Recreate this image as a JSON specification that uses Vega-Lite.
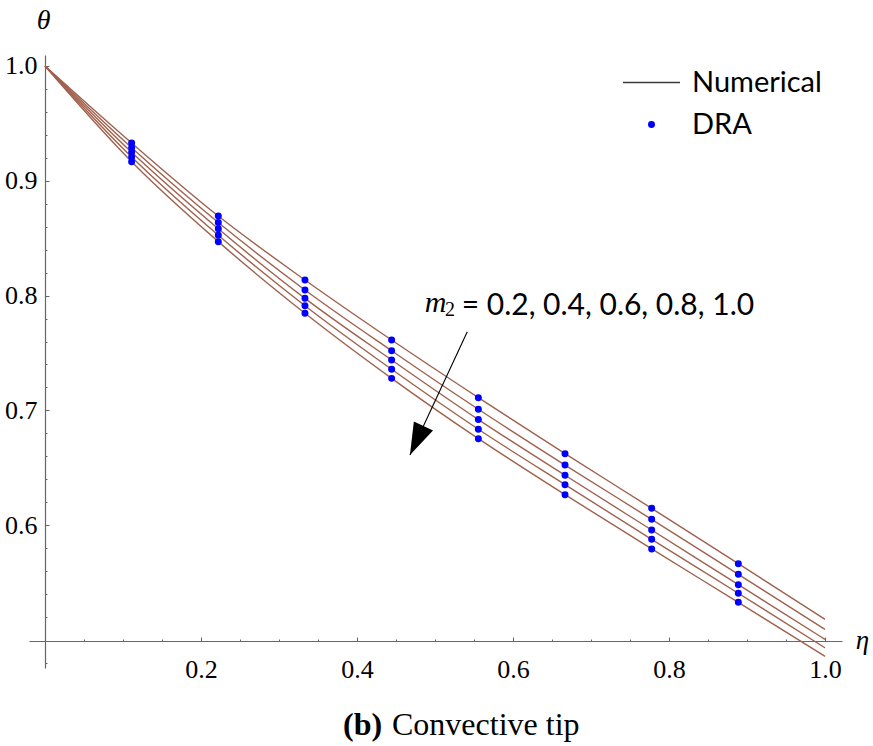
{
  "$schema": "https://vega.github.io/schema/vega-lite/v6.json",
  "width": 813,
  "height": 613,
  "autosize": "none",
  "padding": {"left": 29, "top": 55, "right": 31, "bottom": 78},
  "background": "white",
  "config": {
    "view": {"stroke": null},
    "axis": {"grid": false},
    "legend": {
      "orient": "none",
      "legendX": 593,
      "legendY": -2,
      "title": null,
      "padding": 0,
      "labelFont": "Lato",
      "labelFontSize": 29,
      "labelColor": "black",
      "labelOffset": 11,
      "rowPadding": 12,
      "symbolStrokeWidth": 1.5
    }
  },
  "datasets": {
    "numerical": [
      {"eta": 0, "theta": 1.0, "m2": 0.2}, {"eta": 0.1111, "theta": 0.9329, "m2": 0.2}, {"eta": 0.2222, "theta": 0.8693, "m2": 0.2}, {"eta": 0.3333, "theta": 0.8136, "m2": 0.2}, {"eta": 0.4444, "theta": 0.7613, "m2": 0.2}, {"eta": 0.5556, "theta": 0.7111, "m2": 0.2}, {"eta": 0.6667, "theta": 0.6623, "m2": 0.2}, {"eta": 0.7778, "theta": 0.6147, "m2": 0.2}, {"eta": 0.8889, "theta": 0.5665, "m2": 0.2}, {"eta": 1.0, "theta": 0.518, "m2": 0.2},
      {"eta": 0, "theta": 1.0, "m2": 0.4}, {"eta": 0.1111, "theta": 0.9288, "m2": 0.4}, {"eta": 0.2222, "theta": 0.8637, "m2": 0.4}, {"eta": 0.3333, "theta": 0.8049, "m2": 0.4}, {"eta": 0.4444, "theta": 0.752, "m2": 0.4}, {"eta": 0.5556, "theta": 0.701, "m2": 0.4}, {"eta": 0.6667, "theta": 0.6524, "m2": 0.4}, {"eta": 0.7778, "theta": 0.6051, "m2": 0.4}, {"eta": 0.8889, "theta": 0.5572, "m2": 0.4}, {"eta": 1.0, "theta": 0.5092, "m2": 0.4},
      {"eta": 0, "theta": 1.0, "m2": 0.6}, {"eta": 0.1111, "theta": 0.9248, "m2": 0.6}, {"eta": 0.2222, "theta": 0.8582, "m2": 0.6}, {"eta": 0.3333, "theta": 0.7976, "m2": 0.6}, {"eta": 0.4444, "theta": 0.7439, "m2": 0.6}, {"eta": 0.5556, "theta": 0.692, "m2": 0.6}, {"eta": 0.6667, "theta": 0.6435, "m2": 0.6}, {"eta": 0.7778, "theta": 0.5958, "m2": 0.6}, {"eta": 0.8889, "theta": 0.5482, "m2": 0.6}, {"eta": 1.0, "theta": 0.5005, "m2": 0.6},
      {"eta": 0, "theta": 1.0, "m2": 0.8}, {"eta": 0.1111, "theta": 0.9207, "m2": 0.8}, {"eta": 0.2222, "theta": 0.8526, "m2": 0.8}, {"eta": 0.3333, "theta": 0.7912, "m2": 0.8}, {"eta": 0.4444, "theta": 0.7358, "m2": 0.8}, {"eta": 0.5556, "theta": 0.6836, "m2": 0.8}, {"eta": 0.6667, "theta": 0.6353, "m2": 0.8}, {"eta": 0.7778, "theta": 0.5877, "m2": 0.8}, {"eta": 0.8889, "theta": 0.5407, "m2": 0.8}, {"eta": 1.0, "theta": 0.4932, "m2": 0.8},
      {"eta": 0, "theta": 1.0, "m2": 1.0}, {"eta": 0.1111, "theta": 0.9166, "m2": 1.0}, {"eta": 0.2222, "theta": 0.847, "m2": 1.0}, {"eta": 0.3333, "theta": 0.7846, "m2": 1.0}, {"eta": 0.4444, "theta": 0.7279, "m2": 1.0}, {"eta": 0.5556, "theta": 0.6754, "m2": 1.0}, {"eta": 0.6667, "theta": 0.6266, "m2": 1.0}, {"eta": 0.7778, "theta": 0.5793, "m2": 1.0}, {"eta": 0.8889, "theta": 0.5328, "m2": 1.0}, {"eta": 1.0, "theta": 0.4858, "m2": 1.0}
    ],
    "dra": [
      {"eta": 0.1111, "theta": 0.9329, "m2": 0.2, "src": "DRA"}, {"eta": 0.2222, "theta": 0.8693, "m2": 0.2, "src": "DRA"}, {"eta": 0.3333, "theta": 0.8136, "m2": 0.2, "src": "DRA"}, {"eta": 0.4444, "theta": 0.7613, "m2": 0.2, "src": "DRA"}, {"eta": 0.5556, "theta": 0.7111, "m2": 0.2, "src": "DRA"}, {"eta": 0.6667, "theta": 0.6623, "m2": 0.2, "src": "DRA"}, {"eta": 0.7778, "theta": 0.6147, "m2": 0.2, "src": "DRA"}, {"eta": 0.8889, "theta": 0.5665, "m2": 0.2, "src": "DRA"},
      {"eta": 0.1111, "theta": 0.9288, "m2": 0.4, "src": "DRA"}, {"eta": 0.2222, "theta": 0.8637, "m2": 0.4, "src": "DRA"}, {"eta": 0.3333, "theta": 0.8049, "m2": 0.4, "src": "DRA"}, {"eta": 0.4444, "theta": 0.752, "m2": 0.4, "src": "DRA"}, {"eta": 0.5556, "theta": 0.701, "m2": 0.4, "src": "DRA"}, {"eta": 0.6667, "theta": 0.6524, "m2": 0.4, "src": "DRA"}, {"eta": 0.7778, "theta": 0.6051, "m2": 0.4, "src": "DRA"}, {"eta": 0.8889, "theta": 0.5572, "m2": 0.4, "src": "DRA"},
      {"eta": 0.1111, "theta": 0.9248, "m2": 0.6, "src": "DRA"}, {"eta": 0.2222, "theta": 0.8582, "m2": 0.6, "src": "DRA"}, {"eta": 0.3333, "theta": 0.7976, "m2": 0.6, "src": "DRA"}, {"eta": 0.4444, "theta": 0.7439, "m2": 0.6, "src": "DRA"}, {"eta": 0.5556, "theta": 0.692, "m2": 0.6, "src": "DRA"}, {"eta": 0.6667, "theta": 0.6435, "m2": 0.6, "src": "DRA"}, {"eta": 0.7778, "theta": 0.5958, "m2": 0.6, "src": "DRA"}, {"eta": 0.8889, "theta": 0.5482, "m2": 0.6, "src": "DRA"},
      {"eta": 0.1111, "theta": 0.9207, "m2": 0.8, "src": "DRA"}, {"eta": 0.2222, "theta": 0.8526, "m2": 0.8, "src": "DRA"}, {"eta": 0.3333, "theta": 0.7912, "m2": 0.8, "src": "DRA"}, {"eta": 0.4444, "theta": 0.7358, "m2": 0.8, "src": "DRA"}, {"eta": 0.5556, "theta": 0.6836, "m2": 0.8, "src": "DRA"}, {"eta": 0.6667, "theta": 0.6353, "m2": 0.8, "src": "DRA"}, {"eta": 0.7778, "theta": 0.5877, "m2": 0.8, "src": "DRA"}, {"eta": 0.8889, "theta": 0.5407, "m2": 0.8, "src": "DRA"},
      {"eta": 0.1111, "theta": 0.9166, "m2": 1.0, "src": "DRA"}, {"eta": 0.2222, "theta": 0.847, "m2": 1.0, "src": "DRA"}, {"eta": 0.3333, "theta": 0.7846, "m2": 1.0, "src": "DRA"}, {"eta": 0.4444, "theta": 0.7279, "m2": 1.0, "src": "DRA"}, {"eta": 0.5556, "theta": 0.6754, "m2": 1.0, "src": "DRA"}, {"eta": 0.6667, "theta": 0.6266, "m2": 1.0, "src": "DRA"}, {"eta": 0.7778, "theta": 0.5793, "m2": 1.0, "src": "DRA"}, {"eta": 0.8889, "theta": 0.5328, "m2": 1.0, "src": "DRA"}
    ],
    "notes_m": [
      {"eta": 0.487, "theta": 0.7859, "label": "m"}
    ],
    "notes_sub": [
      {"eta": 0.5128, "theta": 0.7822, "label": "2"}
    ],
    "notes_sans": [
      {"eta": 0.5342, "theta": 0.7831, "label": "= 0.2, 0.4, 0.6, 0.8, 1.0"}
    ],
    "caption_bold": [
      {"eta": 0.3821, "theta": 0.4172, "label": "(b)"}
    ],
    "caption_plain": [
      {"eta": 0.4449, "theta": 0.4172, "label": "Convective tip"}
    ],
    "arrow": [
      {"eta": 0.5414, "theta": 0.7686, "eta2": 0.4679, "theta2": 0.6611}
    ]
  },
  "layer": [
    {
      "data": {"name": "numerical"},
      "mark": {"type": "line", "color": "#A0614E", "strokeWidth": 1.4, "interpolate": "monotone"},
      "encoding": {
        "x": {
          "field": "eta", "type": "quantitative",
          "scale": {"domain": [-0.0205, 1.0218], "nice": false, "zero": false},
          "axis": {
            "orient": "bottom", "offset": -27,
            "values": [0.2, 0.4, 0.6, 0.8, 1.0], "format": ".1f",
            "tickSize": -4, "tickColor": "#666666", "tickWidth": 1,
            "domainColor": "#666666", "domainWidth": 1.2,
            "labelFont": "Liberation Serif", "labelFontSize": 26, "labelColor": "black",
            "labelPadding": 19, "labelFlush": false, "labelOverlap": false,
            "title": "η", "titleFont": "Liberation Serif", "titleFontStyle": "italic",
            "titleFontWeight": "normal", "titleFontSize": 27, "titleColor": "black",
            "titleX": 833, "titleY": 7, "titleAlign": "center", "titleBaseline": "alphabetic"
          }
        },
        "y": {
          "field": "theta", "type": "quantitative",
          "scale": {"domain": [0.47561, 1.00958], "nice": false, "zero": false},
          "axis": {
            "orient": "left", "offset": -16,
            "values": [0.6, 0.7, 0.8, 0.9, 1.0], "format": ".1f",
            "tickSize": -4, "tickColor": "#666666", "tickWidth": 1,
            "domainColor": "#666666", "domainWidth": 1.2,
            "labelFont": "Liberation Serif", "labelFontSize": 26, "labelColor": "black",
            "labelPadding": 12, "labelFlush": false, "labelOverlap": false,
            "title": "θ", "titleFont": "Liberation Serif", "titleFontStyle": "italic",
            "titleFontWeight": "normal", "titleFontSize": 28, "titleColor": "black",
            "titleAngle": 0, "titleX": -2, "titleY": -35, "titleAlign": "center", "titleBaseline": "middle"
          }
        },
        "detail": {"field": "m2", "type": "nominal"}
      }
    },
    {
      "data": {"name": "dra"},
      "mark": {"type": "point", "filled": true, "strokeWidth": 1.5, "opacity": 1},
      "encoding": {
        "x": {
          "field": "eta", "type": "quantitative",
          "axis": {
            "orient": "bottom", "offset": -27,
            "values": [0.05, 0.1, 0.15, 0.25, 0.3, 0.35, 0.45, 0.5, 0.55, 0.65, 0.7, 0.75, 0.85, 0.9, 0.95],
            "tickSize": -2, "tickColor": "#666666", "tickWidth": 1,
            "domain": false, "labels": false, "title": null
          }
        },
        "y": {
          "field": "theta", "type": "quantitative",
          "axis": {
            "orient": "left", "offset": -16,
            "values": [0.48, 0.52, 0.54, 0.56, 0.58, 0.62, 0.64, 0.66, 0.68, 0.72, 0.74, 0.76, 0.78, 0.82, 0.84, 0.86, 0.88, 0.92, 0.94, 0.96, 0.98],
            "tickSize": -2, "tickColor": "#666666", "tickWidth": 1,
            "domain": false, "labels": false, "title": null
          }
        },
        "fill": {"field": "src", "type": "nominal", "scale": {"domain": ["Numerical", "DRA"], "range": ["#3a3a3a", "#0000ff"]}},
        "stroke": {"field": "src", "type": "nominal", "scale": {"domain": ["Numerical", "DRA"], "range": ["#3a3a3a", "#0000ff"]}},
        "shape": {"field": "src", "type": "nominal", "scale": {"domain": ["Numerical", "DRA"], "range": ["stroke", "circle"]}},
        "size": {"field": "src", "type": "nominal", "scale": {"domain": ["Numerical", "DRA"], "range": [3249, 30]}}
      }
    },
    {
      "data": {"name": "arrow"},
      "mark": {"type": "rule", "color": "black", "strokeWidth": 1.1},
      "encoding": {
        "x": {"field": "eta", "type": "quantitative", "axis": null},
        "y": {"field": "theta", "type": "quantitative", "axis": null},
        "x2": {"field": "eta2"},
        "y2": {"field": "theta2"}
      }
    },
    {
      "data": {"name": "arrow"},
      "mark": {"type": "point", "filled": true, "color": "black", "opacity": 1, "shape": "M0,0 L-0.33,-1 L0.33,-1 Z", "size": 4096, "angle": 24.9},
      "encoding": {
        "x": {"field": "eta2", "type": "quantitative", "axis": null},
        "y": {"field": "theta2", "type": "quantitative", "axis": null}
      }
    },
    {
      "data": {"name": "notes_m"},
      "mark": {"type": "text", "font": "Liberation Serif", "fontStyle": "italic", "fontSize": 30, "align": "left", "baseline": "alphabetic", "color": "black"},
      "encoding": {
        "x": {"field": "eta", "type": "quantitative", "axis": null},
        "y": {"field": "theta", "type": "quantitative", "axis": null},
        "text": {"field": "label"}
      }
    },
    {
      "data": {"name": "notes_sub"},
      "mark": {"type": "text", "font": "Liberation Serif", "fontSize": 20, "align": "left", "baseline": "alphabetic", "color": "black"},
      "encoding": {
        "x": {"field": "eta", "type": "quantitative", "axis": null},
        "y": {"field": "theta", "type": "quantitative", "axis": null},
        "text": {"field": "label"}
      }
    },
    {
      "data": {"name": "notes_sans"},
      "mark": {"type": "text", "font": "Lato", "fontSize": 30, "align": "left", "baseline": "alphabetic", "color": "black"},
      "encoding": {
        "x": {"field": "eta", "type": "quantitative", "axis": null},
        "y": {"field": "theta", "type": "quantitative", "axis": null},
        "text": {"field": "label"}
      }
    },
    {
      "data": {"name": "caption_bold"},
      "mark": {"type": "text", "font": "Liberation Serif", "fontWeight": "bold", "fontSize": 32, "align": "left", "baseline": "alphabetic", "color": "black"},
      "encoding": {
        "x": {"field": "eta", "type": "quantitative", "axis": null},
        "y": {"field": "theta", "type": "quantitative", "axis": null},
        "text": {"field": "label"}
      }
    },
    {
      "data": {"name": "caption_plain"},
      "mark": {"type": "text", "font": "Liberation Serif", "fontSize": 32, "align": "left", "baseline": "alphabetic", "color": "black"},
      "encoding": {
        "x": {"field": "eta", "type": "quantitative", "axis": null},
        "y": {"field": "theta", "type": "quantitative", "axis": null},
        "text": {"field": "label"}
      }
    }
  ],
  "resolve": {"axis": {"x": "independent", "y": "independent"}}
}
